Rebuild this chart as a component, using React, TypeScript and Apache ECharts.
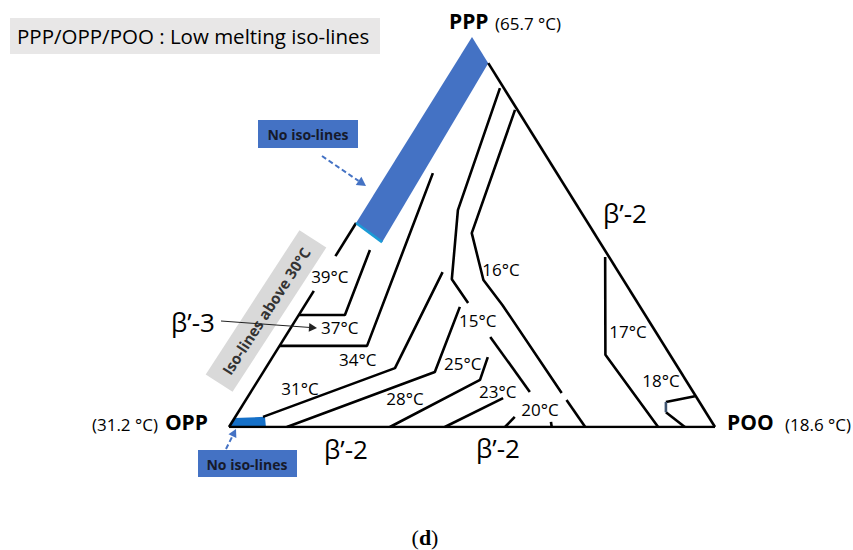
import React, { useEffect, useRef } from "react";
import * as echarts from "echarts";

// Every point is a composition [PPP %, POO %]; OPP = 100 - PPP - POO
const triangleBase = [[0, 0], [0, 100]];
const triangleRight = [[93.3, 6.7], [0, 100]];
const leftEdgeLower = [[0, 0], [34.9, 0]];
const leftEdgeUpper = [[43.8, 0], [52.3, 0]];
const iso37 = [[28.7, 0], [28.7, 9.5], [45.4, 6.3]];
const iso34 = [[20.8, 0], [20.8, 18.0], [65.1, 9.4]];
const iso31 = [[2.6, 5.7], [15.1, 26.6], [39.7, 24.1]];
const iso28 = [[0, 11.9], [14.1, 35.3], [30.8, 32.1]];
const iso25 = [[0, 33.1], [12.1, 45.6], [17.9, 44.3]];
const iso23 = [[0, 44.4], [7.4, 52.7]];
const iso20 = [[0, 56.8], [2.6, 57.5]];
const iso15a = [[86.9, 12.3], [55.6, 19.3], [37.9, 26.9], [31.8, 33.3]];
const iso15b = [[23.1, 42.2], [9.0, 57.4]];
const iso15c = [[1.3, 65.6], [0, 66.4]];
const iso16a = [[81.3, 18.2], [49.7, 25.1], [37.7, 33.5], [31.3, 40.6], [8.7, 64.1]];
const iso16b = [[6.9, 66.0], [0, 73.3]];
const iso17 = [[43.6, 55.6], [18.5, 68.2], [0, 88.3]];
const iso18a = [[7.9, 91.9], [6.4, 86.7]];
const iso18b = [[3.8, 88.0], [0, 93.8]];
const iso18mid = [[6.4, 86.7], [3.8, 88.0]];
const bandEdge = [[52.3, 0], [47.4, 7.8]];

const blackStrokes = [
  triangleBase, triangleRight, leftEdgeLower, leftEdgeUpper,
  iso37, iso34, iso31, iso28, iso25, iso23, iso20,
  iso15a, iso15b, iso15c, iso16a, iso16b, iso17, iso18a, iso18b,
];

const noIsoBand = [[100, 0], [93.3, 6.7], [47.4, 7.8], [52.3, 0]];
const noIsoCorner = [[0, 0], [2.3, 0], [2.6, 6.1], [0, 7.6]];

const tempLabels = ["39°C", "37°C", "34°C", "31°C", "28°C", "25°C", "23°C", "20°C", "15°C", "16°C", "17°C", "18°C"];
const tempLabelPos = [
  [38.7, 1.4], [25.6, 10.0], [17.2, 17.9], [10.0, 9.6], [7.4, 32.5], [16.2, 40.0],
  [9.0, 50.8], [4.6, 61.7], [27.2, 37.6], [40.5, 35.7], [24.4, 69.9], [11.8, 83.0],
];

const FONT = "'Open Sans', 'Noto Sans', sans-serif";

const toXY = (c: number[]) => [c[1] + c[0] / 2, c[0]];

function arrow(x1: number, y1: number, x2: number, y2: number, color: string, width: number, dashed: boolean, head: number) {
  const a = Math.atan2(y2 - y1, x2 - x1);
  const bx = x2 - head * Math.cos(a);
  const by = y2 - head * Math.sin(a);
  const w = head * 0.55;
  return [
    {
      type: "line",
      shape: { x1, y1, x2: bx, y2: by },
      style: { stroke: color, lineWidth: width, lineDash: dashed ? [5, 3] : null },
      z: 20,
    },
    {
      type: "polygon",
      shape: {
        points: [
          [x2, y2],
          [bx + w * Math.sin(a), by - w * Math.cos(a)],
          [bx - w * Math.sin(a), by + w * Math.cos(a)],
        ],
      },
      style: { fill: color },
      z: 20,
    },
  ];
}

export default function App() {
  const ref = useRef<HTMLDivElement>(null);
  useEffect(() => {
    if (!ref.current) return;
    const chart = echarts.init(ref.current, null, { renderer: "svg" });
    const polys = [
      { pts: noIsoBand, color: "#4472C4" },
      { pts: noIsoCorner, color: "#1570C8" },
    ];
    const series: any[] = [
      {
        type: "custom",
        coordinateSystem: "cartesian2d",
        data: polys.map((_, i) => [i]),
        silent: true,
        z: 1,
        renderItem: (params: any, api: any) => {
          const p = polys[params.dataIndex];
          return {
            type: "polygon",
            shape: { points: p.pts.map((c) => api.coord(toXY(c))) },
            style: { fill: p.color },
          };
        },
      },
    ];
    blackStrokes.forEach((s) => {
      series.push({
        type: "line",
        data: s.map(toXY),
        symbol: "none",
        silent: true,
        z: 3,
        lineStyle: { color: "#000", width: 2.6, cap: "butt" },
      });
    });
    series.push({
      type: "line",
      data: iso18mid.map(toXY),
      symbol: "none",
      silent: true,
      z: 3,
      lineStyle: { color: "#3e5470", width: 2.6 },
    });
    series.push({
      type: "line",
      data: bandEdge.map(toXY),
      symbol: "none",
      silent: true,
      z: 4,
      lineStyle: { color: "#1b9bd6", width: 2.6 },
    });
    series.push({
      type: "scatter",
      data: tempLabels.map((t, i) => ({ value: toXY(tempLabelPos[i]), name: t })),
      symbolSize: 1,
      itemStyle: { color: "rgba(0,0,0,0)" },
      silent: true,
      z: 5,
      label: {
        show: true,
        position: "inside",
        formatter: "{b}",
        fontSize: 17,
        fontFamily: FONT,
        color: "#000",
        opacity: 1,
      },
    });

    const graphic: any[] = [
      { type: "rect", shape: { x: 10, y: 18, width: 370, height: 36 }, style: { fill: "#e8e7e7" } },
      { type: "text", x: 17, y: 36, style: { text: "PPP/OPP/POO : Low melting iso-lines", fontSize: 20.5, fontFamily: FONT, fill: "#000", verticalAlign: "middle" } },
      { type: "text", x: 449, y: 21, style: { text: "PPP", fontSize: 21, fontWeight: "bold", fontFamily: FONT, fill: "#000", verticalAlign: "middle" } },
      { type: "text", x: 495, y: 23, style: { text: "(65.7 °C)", fontSize: 17, fontFamily: FONT, fill: "#000", verticalAlign: "middle" } },
      { type: "text", x: 208, y: 422, style: { text: "OPP", fontSize: 21, fontWeight: "bold", fontFamily: FONT, fill: "#000", align: "right", verticalAlign: "middle" } },
      { type: "text", x: 158, y: 424, style: { text: "(31.2 °C)", fontSize: 17, fontFamily: FONT, fill: "#000", align: "right", verticalAlign: "middle" } },
      { type: "text", x: 727, y: 422, style: { text: "POO", fontSize: 21, fontWeight: "bold", fontFamily: FONT, fill: "#000", verticalAlign: "middle" } },
      { type: "text", x: 785, y: 424, style: { text: "(18.6 °C)", fontSize: 17, fontFamily: FONT, fill: "#000", verticalAlign: "middle" } },
      { type: "text", x: 193, y: 322, style: { text: "β’-3", fontSize: 26, fontFamily: FONT, fill: "#000", align: "center", verticalAlign: "middle" } },
      { type: "text", x: 625, y: 213, style: { text: "β’-2", fontSize: 26, fontFamily: FONT, fill: "#000", align: "center", verticalAlign: "middle" } },
      { type: "text", x: 346, y: 449, style: { text: "β’-2", fontSize: 26, fontFamily: FONT, fill: "#000", align: "center", verticalAlign: "middle" } },
      { type: "text", x: 498, y: 448, style: { text: "β’-2", fontSize: 26, fontFamily: FONT, fill: "#000", align: "center", verticalAlign: "middle" } },
      { type: "rect", shape: { x: 258, y: 120, width: 100, height: 28 }, style: { fill: "#4472C4" } },
      { type: "text", x: 308, y: 134, style: { text: "No iso-lines", fontSize: 14, fontWeight: "bold", fontFamily: FONT, fill: "#161a2c", align: "center", verticalAlign: "middle" } },
      { type: "rect", shape: { x: 198, y: 450, width: 99, height: 27 }, style: { fill: "#4472C4" } },
      { type: "text", x: 247, y: 464, style: { text: "No iso-lines", fontSize: 14, fontWeight: "bold", fontFamily: FONT, fill: "#161a2c", align: "center", verticalAlign: "middle" } },
      ...arrow(322, 156, 366, 186, "#4472C4", 2, true, 9),
      ...arrow(226, 449, 236, 429, "#4472C4", 2, true, 8),
      ...arrow(221, 321, 317, 328, "#222", 1, false, 8),
      {
        type: "group",
        x: 266,
        y: 311,
        rotation: (57 * Math.PI) / 180,
        children: [
          { type: "rect", shape: { x: -86, y: -16, width: 172, height: 32 }, style: { fill: "#d9d9d9" } },
          { type: "text", x: 0, y: 0, style: { text: "Iso-lines above 30°C", fontSize: 15, fontWeight: "bold", fontFamily: FONT, fill: "#333", align: "center", verticalAlign: "middle" } },
        ],
      },
      {
        type: "text",
        x: 425,
        y: 537,
        style: {
          text: "{p|(}{d|d}{p|)}",
          align: "center",
          verticalAlign: "middle",
          rich: {
            p: { fontSize: 22, fontFamily: "'Liberation Serif', serif", fill: "#000" },
            d: { fontSize: 22, fontWeight: "bold", fontFamily: "'Liberation Serif', serif", fill: "#000" },
          },
        },
      },
    ];

    chart.setOption({
      animation: false,
      grid: { left: 229, top: 37, width: 486, height: 390 },
      xAxis: { type: "value", min: 0, max: 100, show: false },
      yAxis: { type: "value", min: 0, max: 100, show: false },
      series,
      graphic,
    });
    return () => chart.dispose();
  }, []);
  return (
    <div
      ref={ref}
      style={{ position: "fixed", left: 0, top: 0, width: 853, height: 550, background: "#fff" }}
    />
  );
}
